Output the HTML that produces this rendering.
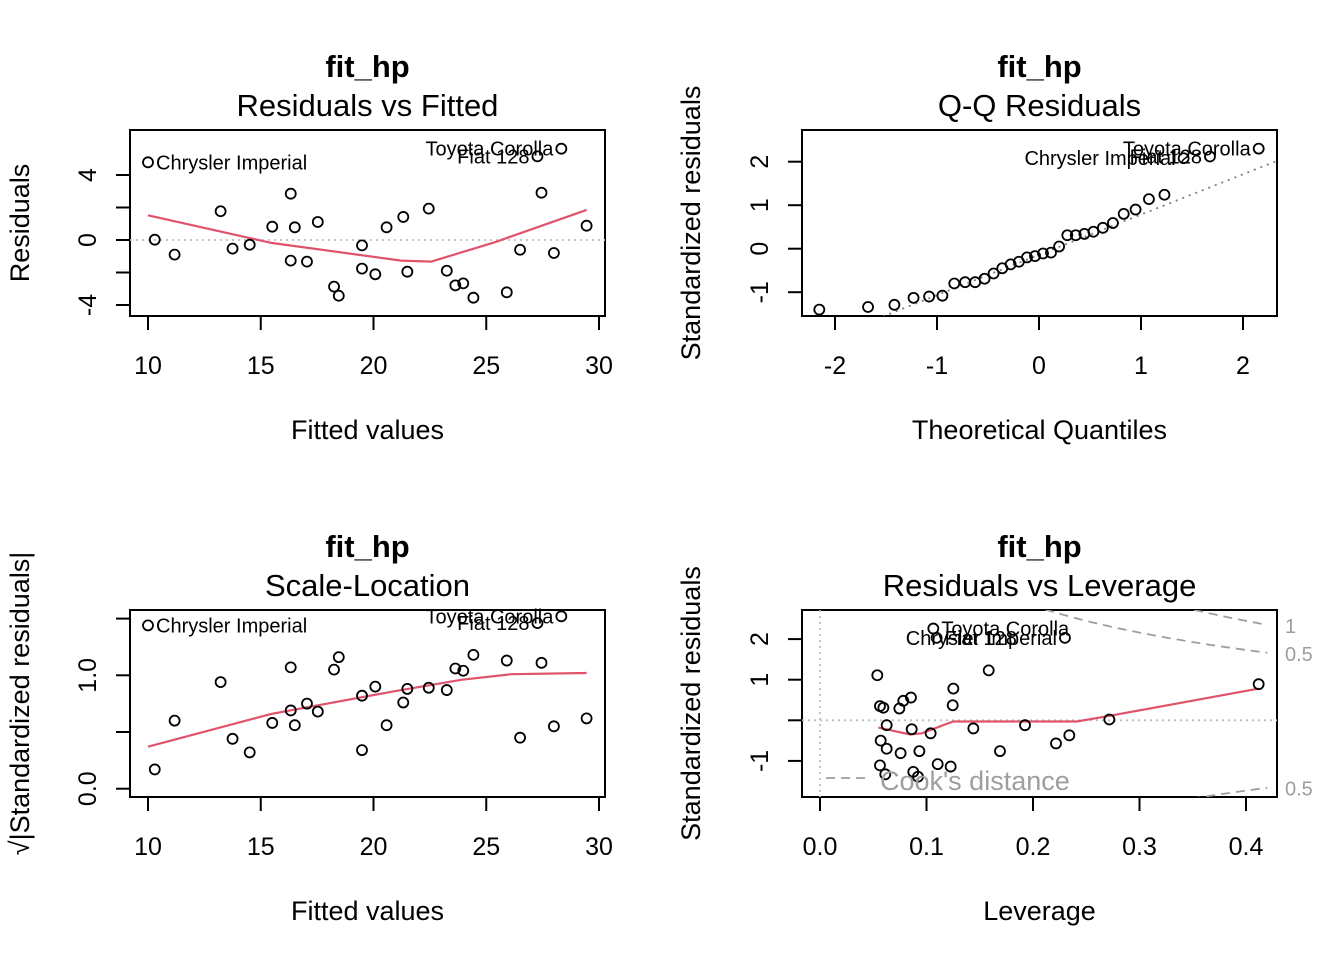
<!DOCTYPE html>
<html><head><meta charset="utf-8"><style>
html,body{margin:0;padding:0;background:#fff;width:1344px;height:960px;overflow:hidden;}
svg{display:block;font-family:"Liberation Sans",Arial,sans-serif;}
</style></head><body>
<svg id="chart" width="1344" height="960" viewBox="0 0 1344 960" xmlns="http://www.w3.org/2000/svg">
<defs>
<clipPath id="c1"><rect x="130" y="130" width="475" height="186"/></clipPath>
<clipPath id="c2"><rect x="802" y="130" width="475" height="186"/></clipPath>
<clipPath id="c3"><rect x="130" y="610" width="475" height="187"/></clipPath>
<clipPath id="c4"><rect x="802" y="610" width="475" height="187"/></clipPath>
</defs>
</svg>
<script>
// ---- data ----
const fittedVals = [10.00,10.30,11.18,13.22,13.75,14.51,15.51,16.33,16.33,16.51,17.05,17.53,18.25,18.46,19.49,19.49,20.08,20.58,21.32,21.50,22.45,23.25,23.63,23.98,24.43,25.91,26.50,27.27,27.45,28.00,28.33,29.45];
const residVals = [4.78,0.02,-0.90,1.77,-0.53,-0.29,0.82,2.85,-1.27,0.78,-1.33,1.11,-2.87,-3.43,-0.33,-1.76,-2.11,0.78,1.42,-1.95,1.93,-1.89,-2.79,-2.67,-3.55,-3.22,-0.60,5.15,2.91,-0.80,5.62,0.88];
const residLabels = {0:"Chrysler Imperial",27:"Fiat 128",30:"Toyota Corolla"};
const smooth1X = [10.00,15.47,21.23,22.56,25.37,29.45];
const smooth1Y = [1.52,-0.18,-1.27,-1.33,-0.14,1.85];
const qqSorted = [-1.40,-1.34,-1.29,-1.13,-1.10,-1.08,-0.80,-0.77,-0.77,-0.69,-0.57,-0.45,-0.36,-0.30,-0.20,-0.17,-0.11,-0.09,0.05,0.31,0.31,0.34,0.39,0.48,0.59,0.80,0.90,1.14,1.24,2.08,2.12,2.30];
const qqLabels = {29:"Chrysler Imperial",30:"Fiat 128",31:"Toyota Corolla"};
const qqLineCoef = [-0.141,0.926];
const scaleLocVals = [1.44,0.17,0.60,0.94,0.44,0.32,0.58,1.07,0.69,0.56,0.75,0.68,1.05,1.16,0.34,0.82,0.90,0.56,0.76,0.88,0.89,0.87,1.06,1.04,1.18,1.13,0.45,1.46,1.11,0.55,1.52,0.62];
const smooth3X = [10.00,15.47,20.94,23.89,26.11,29.45];
const smooth3Y = [0.37,0.66,0.86,0.96,1.01,1.02];
const leverageVals = [0.0538,0.0563,0.0595,0.0626,0.0570,0.0626,0.0563,0.0613,0.0745,0.0782,0.0854,0.0757,0.0861,0.0933,0.0876,0.0920,0.1039,0.1105,0.1227,0.1246,0.1252,0.1584,0.1440,0.1690,0.1925,0.2216,0.2341,0.2717,0.4119,0.1064,0.1095,0.2300];
const stdResVals = [1.11,0.35,0.31,-0.12,-0.50,-0.70,-1.11,-1.33,0.29,0.48,0.56,-0.81,-0.22,-0.76,-1.27,-1.39,-0.32,-1.08,-1.14,0.37,0.78,1.23,-0.20,-0.76,-0.12,-0.57,-0.37,0.02,0.89,2.26,2.03,2.03];
const levLabels = {29:["Toyota Corolla","r"],30:["Fiat 128","r"],31:["Chrysler Imperial","l"]};
const smooth4X = [0.0548,0.0845,0.0955,0.125,0.241,0.272,0.412];
const smooth4Y = [-0.18,-0.35,-0.32,-0.03,-0.03,0.11,0.78];
const cookLevels = [0.5,1];
const nParams = 4;

// ---- scales ----
const p1x = v => 148 + (v-10)*22.55, p1y = v => 240 - v*16.25;
const p2x = v => 835 + (v+2)*102, p2y = v => 248.7 - v*43.5;
const p3x = p1x, p3y = v => 788.7 - v*113.4;
const p4x = v => 820 + v*1065, p4y = v => 720.3 - v*40.6;

const NS = "http://www.w3.org/2000/svg";
const svg = document.getElementById('chart');
function mk(tag, attrs, parent, text){
  const e = document.createElementNS(NS, tag);
  for (const k in attrs) e.setAttribute(k, attrs[k]);
  if (text !== undefined) e.textContent = text;
  (parent||svg).appendChild(e);
  return e;
}
function qnorm(p){
  const a=[-39.69683028665376,220.9460984245205,-275.9285104469687,138.3577518672690,-30.66479806614716,2.506628277459239];
  const b=[-54.47609879822406,161.5858368580409,-155.6989798598866,66.80131188771972,-13.28068155288572];
  const c=[-0.007784894002430293,-0.3223964580411365,-2.400758277161838,-2.549732539343734,4.374664141464968,2.938163982698783];
  const d=[0.007784695709041462,0.3224671290700398,2.445134137142996,3.754408661907416];
  let q,r;
  if(p<0.02425){q=Math.sqrt(-2*Math.log(p));return (((((c[0]*q+c[1])*q+c[2])*q+c[3])*q+c[4])*q+c[5])/((((d[0]*q+d[1])*q+d[2])*q+d[3])*q+1);}
  if(p>1-0.02425){q=Math.sqrt(-2*Math.log(1-p));return -(((((c[0]*q+c[1])*q+c[2])*q+c[3])*q+c[4])*q+c[5])/((((d[0]*q+d[1])*q+d[2])*q+d[3])*q+1);}
  q=p-0.5;r=q*q;
  return (((((a[0]*r+a[1])*r+a[2])*r+a[3])*r+a[4])*r+a[5])*q/(((((b[0]*r+b[1])*r+b[2])*r+b[3])*r+b[4])*r+1);
}

function frame(x0,y0,x1,y1,name,t1,t2,xt,yt,xticks,xlab,yticks,ylabShown,yfmt,xs,ys,ytitleX){
  const g = mk('g',{});
  
  
  const cx=(x0+x1)/2;
  const a = mk('text',{x:cx,y:y0-53,'text-anchor':'middle','font-size':31,'font-weight':'bold'},g,t1);
  
  
  const b = mk('text',{x:cx,y:y0-14,'text-anchor':'middle','font-size':31},g,t2);
  
  
  const box = mk('rect',{x:x0,y:y0,width:x1-x0,height:y1-y0,fill:'none',stroke:'#000','stroke-width':2},g);
  
  
  const xa = mk('g',{},g);
  
  
  mk('line',{x1:xs(xticks[0]),x2:xs(xticks[xticks.length-1]),y1:y1,y2:y1,stroke:'#000','stroke-width':2},xa);
  xticks.forEach((t,i)=>{
    mk('line',{x1:xs(t),x2:xs(t),y1:y1,y2:y1+14,stroke:'#000','stroke-width':2},xa);
    const tl = mk('text',{x:xs(t),y:y1+58,'text-anchor':'middle','font-size':25},xa,xlab[i]);
    
    
  });
  const xtt = mk('text',{x:cx,y:y1+123,'text-anchor':'middle','font-size':27},g,xt);
  
  
  const ya = mk('g',{},g);
  
  
  mk('line',{x1:x0,x2:x0,y1:ys(yticks[0]),y2:ys(yticks[yticks.length-1]),stroke:'#000','stroke-width':2},ya);
  yticks.forEach(t=>{
    mk('line',{x1:x0-14,x2:x0,y1:ys(t),y2:ys(t),stroke:'#000','stroke-width':2},ya);
    if (ylabShown.includes(t)){
      const yy=ys(t), xx=x0-34;
      const tl = mk('text',{x:xx,y:yy,'text-anchor':'middle','font-size':25,transform:`rotate(-90 ${xx} ${yy})`},ya,yfmt(t));
      
      
    }
  });
  const ymid=(y0+y1)/2;
  const ytl = mk('text',{x:ytitleX,y:ymid,'text-anchor':'middle','font-size':27,transform:`rotate(-90 ${ytitleX} ${ymid})`},g,yt);
  
  
  return g;
}
function pts(g, xsArr, ysArr, xs, ys, clip){
  const pg = mk('g',{'clip-path':`url(#${clip})`},g);
  
  
  xsArr.forEach((v,i)=>{
    const c = mk('circle',{cx:xs(v),cy:ys(ysArr[i]),r:5,fill:'none',stroke:'#000','stroke-width':1.8},pg);
    
    
  });
}
function poly(g, xa, ya, xs, ys, attrs, name, clip){
  const d = xa.map((v,i)=>(i?'L':'M')+xs(v).toFixed(1)+','+ys(ya[i]).toFixed(1)).join(' ');
  const p = mk('path',Object.assign({d:d,fill:'none','clip-path':`url(#${clip})`},attrs),g);
  
  
  return p;
}
function lab(g,x,y,txt,anchor){
  const t = mk('text',{x:x,y:y,'text-anchor':anchor,'font-size':20},g,txt);
  
  
}

// Panel 1
const g1 = frame(130,130,605,316,'residuals-vs-fitted','fit_hp','Residuals vs Fitted','Fitted values','Residuals',
  [10,15,20,25,30],['10','15','20','25','30'],[-4,-2,0,2,4],[-4,0,4],t=>String(t),p1x,p1y,29);
const h1 = mk('line',{x1:130,x2:605,y1:p1y(0),y2:p1y(0),stroke:'#BEBEBE','stroke-width':1.8,'stroke-dasharray':'2 4'},g1);


poly(g1, smooth1X, smooth1Y, p1x, p1y, {stroke:'#DF536B','stroke-width':2.2}, 'smooth-line','c1');
pts(g1, fittedVals, residVals, p1x, p1y, 'c1');
for (const k in residLabels){
  const i=+k, x=p1x(fittedVals[i]), y=p1y(residVals[i]);
  if (x<300) lab(g1,x+8,y+7,residLabels[k],'start'); else lab(g1,x-8,y+7,residLabels[k],'end');
}

// Panel 2
const g2 = frame(802,130,1277,316,'qq-residuals','fit_hp','Q-Q Residuals','Theoretical Quantiles','Standardized residuals',
  [-2,-1,0,1,2],['-2','-1','0','1','2'],[-1,0,1,2],[-1,0,1,2],t=>String(t),p2x,p2y,700);
const theo = qqSorted.map((v,i)=>qnorm((i+0.5)/qqSorted.length));
const qx=[-3,3];
poly(g2, qx, qx.map(v=>qqLineCoef[0]+qqLineCoef[1]*v), p2x, p2y, {stroke:'#7F7F7F','stroke-width':1.8,'stroke-dasharray':'2 5'}, 'qq-line','c2');
pts(g2, theo, qqSorted, p2x, p2y, 'c2');
for (const k in qqLabels){
  const i=+k; lab(g2,p2x(theo[i])-8,p2y(qqSorted[i])+7,qqLabels[k],'end');
}

// Panel 3
const g3 = frame(130,610,605,797,'scale-location','fit_hp','Scale-Location','Fitted values','\u221A|Standardized residuals|',
  [10,15,20,25,30],['10','15','20','25','30'],[0,0.5,1,1.5],[0,1],t=>t.toFixed(1),p3x,p3y,29);
poly(g3, smooth3X, smooth3Y, p3x, p3y, {stroke:'#DF536B','stroke-width':2.2}, 'smooth-line','c3');
pts(g3, fittedVals, scaleLocVals, p3x, p3y, 'c3');
for (const k in residLabels){
  const i=+k, x=p3x(fittedVals[i]), y=p3y(scaleLocVals[i]);
  if (x<300) lab(g3,x+8,y+7,residLabels[k],'start'); else lab(g3,x-8,y+7,residLabels[k],'end');
}

// Panel 4
const g4 = frame(802,610,1277,797,'residuals-vs-leverage','fit_hp','Residuals vs Leverage','Leverage','Standardized residuals',
  [0,0.1,0.2,0.3,0.4],['0.0','0.1','0.2','0.3','0.4'],[-1,0,1,2],[-1,1,2],t=>String(t),p4x,p4y,700);
const v4 = mk('line',{x1:p4x(0),x2:p4x(0),y1:610,y2:797,stroke:'#BEBEBE','stroke-width':1.8,'stroke-dasharray':'2 4'},g4);


const h4 = mk('line',{x1:802,x2:1277,y1:p4y(0),y2:p4y(0),stroke:'#BEBEBE','stroke-width':1.8,'stroke-dasharray':'2 4'},g4);


const hh=[]; for(let h=0.01;h<=0.425;h+=0.005) hh.push(h);
cookLevels.forEach(c=>{
  [1,-1].forEach(sgn=>{
    poly(g4, hh, hh.map(h=>sgn*Math.sqrt(c*nParams*(1-h)/h)), p4x, p4y, {stroke:'#9E9E9E','stroke-width':1.8,'stroke-dasharray':'9 6'}, 'cooks-distance-contour','c4');
  });
  const hEnd=0.4207;
  [1,-1].forEach(sgn=>{
    const yv=sgn*Math.sqrt(c*nParams*(1-hEnd)/hEnd), yp=p4y(yv);
    if (yp>=605 && yp<=800){
      const t = mk('text',{x:1285,y:yp+8,'font-size':20,fill:'#9E9E9E'},g4,String(c));
      
      
    }
  });
});
poly(g4, smooth4X, smooth4Y, p4x, p4y, {stroke:'#DF536B','stroke-width':2.2}, 'smooth-line','c4');
pts(g4, leverageVals, stdResVals, p4x, p4y, 'c4');
for (const k in levLabels){
  const i=+k, x=p4x(leverageVals[i]), y=p4y(stdResVals[i]);
  if (levLabels[k][1]==='r') lab(g4,x+8,y+7,levLabels[k][0],'start'); else lab(g4,x-8,y+7,levLabels[k][0],'end');
}
const lg = mk('g',{},g4);


mk('line',{x1:826,x2:868,y1:778,y2:778,stroke:'#9E9E9E','stroke-width':1.8,'stroke-dasharray':'9 6'},lg);
mk('text',{x:880,y:790,'font-size':27,fill:'#9E9E9E'},lg,"Cook's distance");
</script>
</body></html>
